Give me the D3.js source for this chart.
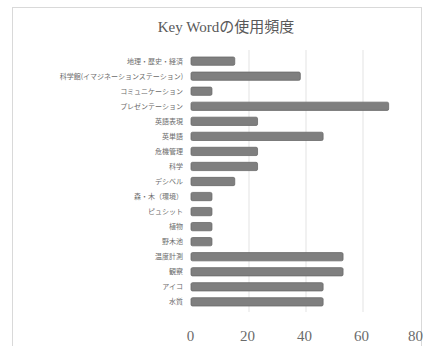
<!DOCTYPE html>
<html>
<head>
<meta charset="utf-8">
<script src="https://cdn.jsdelivr.net/npm/d3@7/dist/d3.min.js"></script>
<style>
  html, body { margin: 0; padding: 0; background: #fff; }
  svg { display: block; }
</style>
</head>
<body>
<svg id="chart" width="426" height="346"></svg>
<script>
// Keyword usage counts
const categories = [
  "地理・歴史・経済",
  "科学館(イマジネーションステーション)",
  "コミュニケーション",
  "プレゼンテーション",
  "英語表現",
  "英単語",
  "危機管理",
  "科学",
  "デシベル",
  "森・木（環境）",
  "ピュシット",
  "植物",
  "野木池",
  "温度計測",
  "観察",
  "アイコ",
  "水質"
];
const values = [15, 38, 7, 69, 23, 46, 23, 23, 15, 7, 7, 7, 7, 53, 53, 46, 46];
const xTicks = [0, 20, 40, 60, 80];
const title = "Key Wordの使用頻度";

const svg = d3.select("#chart");

// chart frame
svg.append("rect")
  .attr("x", 12.5).attr("y", 7.5)
  .attr("width", 409).attr("height", 350)
  .attr("fill", "#fff").attr("stroke", "#d9d9d9").attr("stroke-width", 1);

svg.append("text")
  .attr("x", 226).attr("y", 32)
  .attr("text-anchor", "middle")
  .attr("font-family", "'Liberation Serif', 'Noto Sans CJK JP', serif")
  .attr("font-size", 15)
  .attr("fill", "#595959")
  .text(title);

const x = d3.scaleLinear().domain([0, 80]).range([192, 420]);
const y = d3.scaleBand().domain(categories).range([54, 309]).paddingInner(0.45).paddingOuter(0.2);

// vertical gridlines
svg.append("g")
  .selectAll("line")
  .data(xTicks.filter(d => d > 0 && d < 80))
  .join("line")
  .attr("x1", d => x(d)).attr("x2", d => x(d))
  .attr("y1", 50).attr("y2", 312)
  .attr("stroke", "#e3e3e3").attr("stroke-width", 1);

// bars
svg.append("g")
  .selectAll("rect")
  .data(categories)
  .join("rect")
  .attr("x", x(0) - 1)
  .attr("y", d => y(d))
  .attr("width", (d, i) => x(values[i]) - x(0) + 1)
  .attr("height", y.bandwidth())
  .attr("rx", 1.5)
  .attr("fill", "#7f7f7f")
  .attr("stroke", "#6a6a6a")
  .attr("stroke-width", 0.8);

// category labels
svg.append("g")
  .selectAll("text")
  .data(categories)
  .join("text")
  .attr("x", 183)
  .attr("y", d => y(d) + y.bandwidth() / 2)
  .attr("dy", "0.35em")
  .attr("text-anchor", "end")
  .attr("font-family", "'Noto Sans CJK JP', sans-serif")
  .attr("font-size", 7)
  .attr("fill", "#6b6b6b")
  .text(d => d);

// value axis labels
const axis = d3.axisBottom(x).tickValues(xTicks).tickSize(0).tickPadding(0);
const ga = svg.append("g").attr("transform", "translate(-2,330)").call(axis);
ga.select(".domain").remove();
ga.selectAll("text")
  .attr("font-family", "'Liberation Serif', serif")
  .attr("font-size", 15)
  .attr("fill", "#6b6b6b");
ga.selectAll("text").filter(d => d === 80).attr("dx", -3);
</script>
</body>
</html>
